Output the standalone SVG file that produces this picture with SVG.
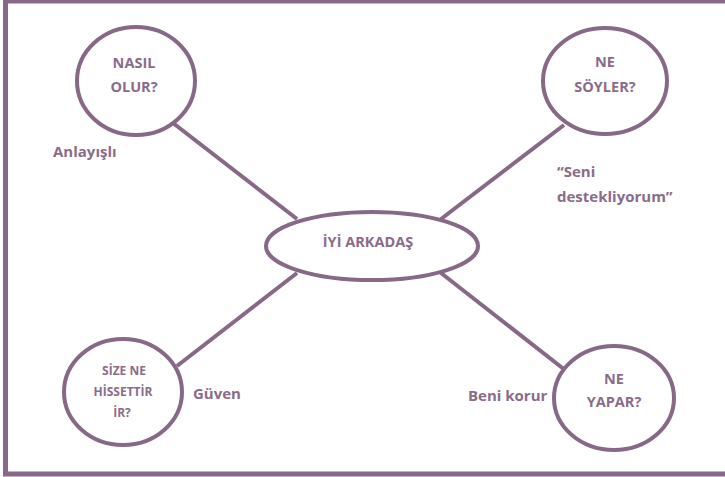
<svg xmlns="http://www.w3.org/2000/svg" width="725" height="477" viewBox="0 0 725 477">
<style>
.shape{fill:#ffffff;stroke:#876887;stroke-width:4}
.line{stroke:#876887;stroke-width:4;fill:none}
.t{font-family:"Open Sans","Liberation Sans",sans-serif;font-weight:bold;fill:#8a6c8a}
.c{font-size:14.5px;text-anchor:middle}
.s{font-size:12px;text-anchor:middle}
.l{font-size:15px}
</style>
<rect x="0" y="0" width="725" height="477" fill="#ffffff"/>
<rect x="5.5" y="1" width="800" height="473" fill="none" stroke="#876887" stroke-width="5"/>
<g id="connectors">
<line class="line" x1="173" y1="123" x2="297" y2="219"/>
<line class="line" x1="564" y1="125" x2="441" y2="219"/>
<line class="line" x1="177" y1="366" x2="297" y2="273"/>
<line class="line" x1="565" y1="370" x2="441" y2="273"/>
</g>
<g id="center">
<ellipse class="shape" cx="372" cy="246" rx="106" ry="34"/>
<text class="t c" x="368" y="247">İYİ ARKADAŞ</text>
</g>
<g id="nasil">
<ellipse class="shape" cx="136" cy="81" rx="59" ry="54"/>
<text class="t c" x="134" y="68">NASIL</text>
<text class="t c" x="134" y="92">OLUR?</text>
</g>
<g id="nesoyler">
<ellipse class="shape" cx="605" cy="81" rx="62" ry="53"/>
<text class="t c" x="605" y="67">NE</text>
<text class="t c" x="605" y="92">SÖYLER?</text>
</g>
<g id="size">
<ellipse class="shape" cx="123" cy="392" rx="59" ry="53"/>
<text class="t s" x="124" y="375">SİZE NE</text>
<text class="t s" x="123" y="396">HİSSETTİR</text>
<text class="t s" x="122" y="417">İR?</text>
</g>
<g id="neyapar">
<ellipse class="shape" cx="614" cy="398" rx="60" ry="52"/>
<text class="t c" x="614" y="384">NE</text>
<text class="t c" x="614" y="407">YAPAR?</text>
</g>
<g id="labels">
<text class="t l" x="53" y="157">Anlayışlı</text>
<text class="t l" x="557" y="177">“Seni</text>
<text class="t l" x="557" y="202">destekliyorum”</text>
<text class="t l" x="193" y="399">Güven</text>
<text class="t l" x="468" y="401">Beni korur</text>
</g>
</svg>
